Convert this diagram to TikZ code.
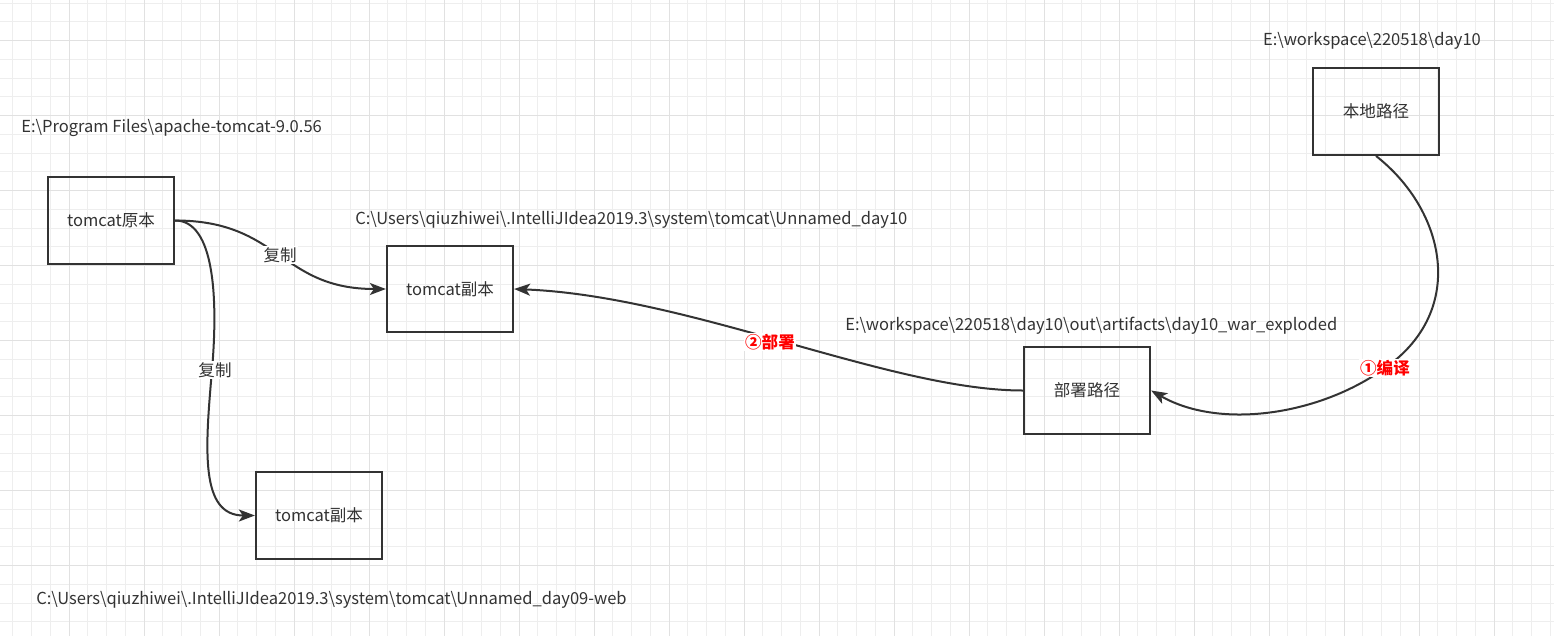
\documentclass[tikz,border=0pt]{standalone}
\usepackage{fontspec}
\setmainfont{Noto Sans CJK SC}
\usepackage{tikz}
\usetikzlibrary{arrows.meta,positioning}
\definecolor{ink}{HTML}{333333}
\definecolor{gridminor}{HTML}{EEEEEE}
\definecolor{gridmajor}{HTML}{E1E1E1}
\definecolor{stepred}{HTML}{FF0000}
\newcommand{\bsl}{\textbackslash}

\begin{document}
\begin{tikzpicture}[x=0.75pt,y=-0.75pt,
	every node/.style={font=\fontsize{12.4}{14}\selectfont,text=ink},
	box/.style={draw=ink,line width=1.7pt,minimum width=94.5pt,minimum height=65pt,inner sep=0pt},
	pathlabel/.style={anchor=west,inner sep=0pt},
	flow/.style={draw=ink,line width=1.5pt,-{Stealth[length=12pt,width=9pt,inset=3pt]}},
	copylabel/.style={fill=white,inner sep=1pt},
	steplabel/.style={fill=white,inner sep=1pt,text=stepred,font=\fontsize{12.4}{14}\selectfont\bfseries}]
	\useasboundingbox (0,0) rectangle (1554,636);
	\fill[white] (0,0) rectangle (1554,636);
	% grid
	\foreach \k in {0,...,82}
		\draw[gridminor,line width=0.75pt] (12.75+18.75*\k,0) -- (12.75+18.75*\k,636);
	\foreach \k in {0,...,33}
		\draw[gridminor,line width=0.75pt] (0,3.2+18.75*\k) -- (1554,3.2+18.75*\k);
	\foreach \k in {0,...,20}
		\draw[gridmajor,line width=0.75pt] (69+75*\k,0) -- (69+75*\k,636);
	\foreach \k in {0,...,8}
		\draw[gridmajor,line width=0.75pt] (0,40.7+75*\k) -- (1554,40.7+75*\k);

	\node[box] (orig) at (111,220.5) {tomcat原本};
	\node[box] (copytop) at (450,289) {tomcat副本};
	\node[box] (copybot) at (319,515.5) {tomcat副本};
	\node[box] (local) at (1376,111.5) {本地路径};
	\node[box] (deploy) at (1087,390.5) {部署路径};

	\node[anchor=center,inner sep=0pt] (localpath) at (1372,41) {E:\bsl workspace\bsl 220518\bsl day10};
	\node[pathlabel] (origpath) at (21,128) {E:\bsl Program Files\bsl apache-tomcat-9.0.56};
	\node[pathlabel] (toppath) at (355,220) {C:\bsl Users\bsl qiuzhiwei\bsl .IntelliJIdea2019.3\bsl system\bsl tomcat\bsl Unnamed\_day10};
	\node[pathlabel] (deploypath) at (845,326) {E:\bsl workspace\bsl 220518\bsl day10\bsl out\bsl artifacts\bsl day10\_war\_exploded};
	\node[pathlabel] (botpath) at (36,600) {C:\bsl Users\bsl qiuzhiwei\bsl .IntelliJIdea2019.3\bsl system\bsl tomcat\bsl Unnamed\_day09-web};

	\draw[flow] (orig.east) .. controls (280,220.5) and (280,289) .. node[copylabel] {复制} (copytop.west);
	\draw[flow] (orig.east) .. controls (215,220.5) and (218,300) .. (212,370)
		.. controls (205,450) and (200,515.5) .. (copybot.west);
	\node[copylabel] at (215,370) {复制};
	\draw[flow] (deploy.west) .. controls (890,390.5) and (690,296) .. (copytop.east);
	\node[steplabel] at (770,342) {②部署};
	\draw[flow] (local.south) .. controls (1445,210) and (1468,310) .. (1385,368)
		.. controls (1320,415) and (1220,430) .. (deploy.east);
	\node[steplabel] at (1385,368) {①编译};
\end{tikzpicture}
\end{document}
